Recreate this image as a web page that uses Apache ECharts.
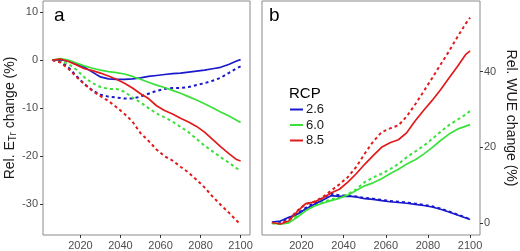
<!DOCTYPE html>
<html style="height: 100%">
<head>
    <meta charset="utf-8" />
    <title>ETr / WUE change</title>
    <script type="text/javascript" src="https://cdn.jsdelivr.net/npm/echarts@6.0.0/dist/echarts.min.js"></script>
</head>
<body style="height: 100%; margin: 0; background: #fff">
    <div id="container" style="width: 520px; height: 251px"></div>
</body>
</html>
<script type="text/javascript">
    // years shared by every curve
    var years = [2006, 2010, 2014, 2018, 2022, 2026, 2030, 2034, 2038, 2042, 2046, 2050, 2054,
        2058, 2062, 2066, 2070, 2074, 2078, 2082, 2086, 2090, 2094, 2098, 2100];

    var rcps = ['2.6', '6.0', '8.5'];
    var colors = ['#1a1acc', '#3ce03c', '#e11b1b'];

    // panel a: relative ETr change (%), solid and dashed
    var etrSolid26 = [0, 0.1, -0.2, -0.8, -1.5, -2.5, -3.5, -3.9, -4.0, -4.0, -3.9, -3.7, -3.4,
        -3.2, -3.0, -2.8, -2.7, -2.5, -2.3, -2.1, -1.8, -1.5, -0.9, -0.2, 0.1];
    var etrDash26 = [0, -0.3, -1.5, -3.3, -5.0, -6.3, -7.2, -7.6, -7.8, -8.0, -8.0, -7.6, -7.0,
        -6.4, -6.0, -5.8, -5.8, -5.6, -5.2, -4.8, -4.3, -3.7, -2.7, -1.7, -1.3];
    var etrSolid60 = [0, 0.3, 0.0, -0.6, -1.2, -1.7, -2.1, -2.4, -2.6, -2.9, -3.4, -4.0, -4.6,
        -5.2, -5.7, -6.3, -6.9, -7.6, -8.3, -9.1, -9.9, -10.8, -11.6, -12.5, -13.0];
    var etrDash60 = [0, -0.2, -0.8, -2.0, -3.6, -4.8, -5.6, -6.0, -6.0, -6.6, -7.8, -8.8, -10.0,
        -11.1, -11.9, -12.8, -13.9, -15.0, -16.4, -17.8, -19.0, -20.2, -21.3, -22.5, -23.1];
    var etrSolid85 = [0, 0.2, -0.3, -1.0, -1.8, -2.2, -2.7, -3.3, -4.0, -4.8, -5.8, -7.0, -8.0,
        -9.5, -10.5, -11.2, -12.1, -12.9, -13.8, -15.0, -16.5, -18.0, -19.4, -20.7, -21.0];
    var etrDash85 = [0, -0.5, -1.8, -3.5, -5.0, -6.4, -7.5, -8.5, -9.8, -11.2, -12.8, -15.2, -16.8,
        -18.6, -20.0, -20.9, -22.2, -23.4, -24.9, -26.5, -28.4, -30.1, -31.7, -33.4, -34.2];

    // panel b: relative WUE change (%)
    var wueSolid26 = [0.2, 0.5, 1.5, 2.3, 3.7, 4.9, 6.0, 7.2, 7.0, 7.1, 6.9, 6.4, 6.2,
        5.9, 5.6, 5.4, 5.2, 4.9, 4.6, 4.2, 3.6, 2.9, 2.1, 1.3, 0.9];
    var wueDash26 = [0, 0.3, 1.2, 2.4, 4.0, 5.3, 6.6, 7.7, 7.3, 7.2, 7.0, 6.6, 6.4,
        6.1, 5.8, 5.6, 5.4, 5.1, 4.8, 4.4, 3.8, 3.0, 2.2, 1.4, 1.0];
    var wueSolid60 = [0, -0.3, 0.0, 1.5, 3.2, 4.4, 5.2, 5.9, 6.5, 7.4, 8.6, 9.8, 10.6,
        11.7, 13.0, 14.2, 15.6, 16.7, 18.2, 19.9, 21.8, 23.5, 24.8, 25.6, 26.0];
    var wueDash60 = [-0.1, -0.3, 0.5, 2.0, 3.5, 4.6, 5.5, 6.2, 6.8, 7.6, 8.9, 10.8, 12.0,
        13.0, 14.2, 15.6, 17.4, 18.9, 20.4, 22.2, 24.1, 25.9, 27.3, 28.7, 29.6];
    var wueSolid85 = [0.1, -0.3, 0.5, 3.0, 5.1, 5.5, 6.5, 7.9, 8.9, 10.8, 13.0, 15.5, 17.8,
        20.0, 21.2, 22.0, 23.9, 27.0, 29.8, 32.4, 35.2, 38.3, 41.4, 44.6, 45.5];
    var wueDash85 = [0, -0.3, 1.0, 3.2, 5.0, 5.6, 6.8, 8.5, 10.2, 12.1, 14.8, 18.3, 21.5,
        24.0, 25.0, 25.8, 28.2, 31.4, 34.8, 38.3, 41.9, 45.4, 49.2, 52.8, 54.3];

    var yearTicks = [2020, 2040, 2060, 2080, 2100];
    var etrTicks = [-30, -20, -10, 0, 10];
    var wueTicks = [0, 20, 40];

    var font = 'Liberation Sans';
    var tickColor = '#4d4d4d';

    function pairs(vals) {
        return years.map(function (y, i) { return [y, vals[i]]; });
    }

    function line(name, vals, k, panel, dashed) {
        return {
            name: name,
            type: 'line',
            xAxisIndex: panel,
            yAxisIndex: panel,
            data: pairs(vals),
            showSymbol: false,
            silent: true,
            z: dashed ? 2 : 3,
            lineStyle: {
                color: colors[k],
                width: dashed ? 2 : 1.7,
                type: dashed ? [3, 3] : 'solid'
            },
            itemStyle: { color: colors[k] }
        };
    }

    function xAxis(gridIndex) {
        return {
            type: 'value',
            gridIndex: gridIndex,
            min: 2001.3,
            max: 2104.7,
            axisLine: { show: false, onZero: false },
            splitLine: { show: false },
            axisTick: { show: true, length: 3, customValues: yearTicks, lineStyle: { color: '#333' } },
            axisLabel: {
                customValues: yearTicks,
                margin: 5,
                color: tickColor,
                fontFamily: font,
                fontSize: 11,
                formatter: function (v) { return String(v); }
            }
        };
    }

    var dom = document.getElementById('container');
    var myChart = echarts.init(dom, null, { renderer: 'canvas' });

    var option = {
        animation: false,
        backgroundColor: '#fff',
        grid: [
            { left: 43, top: 1, width: 207, height: 235, show: true, borderColor: '#8a8a8a', borderWidth: 1, backgroundColor: 'transparent' },
            { left: 262, top: 1, width: 218, height: 235, show: true, borderColor: '#8a8a8a', borderWidth: 1, backgroundColor: 'transparent' }
        ],
        xAxis: [xAxis(0), xAxis(1)],
        yAxis: [
            {
                type: 'value',
                gridIndex: 0,
                min: -36.4,
                max: 12.3,
                axisLine: { show: false, onZero: false },
                splitLine: { show: false },
                axisTick: { show: true, length: 3, customValues: etrTicks, lineStyle: { color: '#333' } },
                axisLabel: { customValues: etrTicks, margin: 5, color: tickColor, fontFamily: font, fontSize: 11 },
                name: 'Rel. E{sub|Tr} change (%)',
                nameLocation: 'middle',
                nameGap: 22.5,
                nameTextStyle: {
                    fontFamily: font, fontSize: 14, color: '#1a1a1a',
                    rich: { sub: { fontFamily: font, fontSize: 10, color: '#1a1a1a', verticalAlign: 'bottom', padding: [6, 0, 0, 0] } }
                }
            },
            {
                type: 'value',
                gridIndex: 1,
                position: 'right',
                min: -3.2,
                max: 58.7,
                axisLine: { show: false, onZero: false },
                splitLine: { show: false },
                axisTick: { show: true, length: 3, customValues: wueTicks, lineStyle: { color: '#333' } },
                axisLabel: { customValues: wueTicks, margin: 4, color: tickColor, fontFamily: font, fontSize: 11 },
                name: 'Rel. WUE change (%)',
                nameLocation: 'middle',
                nameRotate: -90,
                nameGap: 24,
                nameTextStyle: { fontFamily: font, fontSize: 14, color: '#1a1a1a' }
            }
        ],
        legend: {
            data: rcps,
            orient: 'vertical',
            left: 290,
            top: 103,
            padding: 0,
            icon: 'rect',
            itemWidth: 13,
            itemHeight: 2,
            itemGap: 2.5,
            selectedMode: false,
            textStyle: { fontFamily: font, fontSize: 13, lineHeight: 13, color: '#1a1a1a', padding: [0, 0, 0, -2] }
        },
        graphic: [
            { type: 'text', left: 54, top: 6, style: { text: 'a', fontFamily: font, fontSize: 19, fill: '#000' } },
            { type: 'text', left: 269, top: 6, style: { text: 'b', fontFamily: font, fontSize: 19, fill: '#000' } },
            { type: 'text', left: 289, top: 86, style: { text: 'RCP', fontFamily: font, fontSize: 15, fill: '#000' } }
        ],
        series: [
            line('d2.6a', etrDash26, 0, 0, true),
            line('d6.0a', etrDash60, 1, 0, true),
            line('d8.5a', etrDash85, 2, 0, true),
            line('2.6', etrSolid26, 0, 0, false),
            line('6.0', etrSolid60, 1, 0, false),
            line('8.5', etrSolid85, 2, 0, false),
            line('d2.6b', wueDash26, 0, 1, true),
            line('d6.0b', wueDash60, 1, 1, true),
            line('d8.5b', wueDash85, 2, 1, true),
            line('2.6', wueSolid26, 0, 1, false),
            line('6.0', wueSolid60, 1, 1, false),
            line('8.5', wueSolid85, 2, 1, false)
        ]
    };

    myChart.setOption(option);
</script>
